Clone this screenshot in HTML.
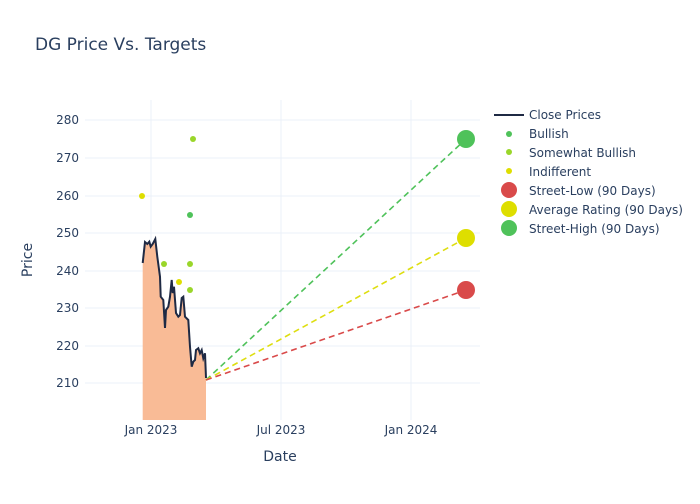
<!DOCTYPE html>
<html><head><style>
body{margin:0;background:#fff;font-family:"DejaVu Sans",sans-serif}
</style></head><body>
<svg width="700" height="500" xmlns="http://www.w3.org/2000/svg" font-family="'DejaVu Sans',sans-serif">
<rect width="700" height="500" fill="#fff"/>
<text x="35" y="50" font-size="17" fill="#2a3f5f">DG Price Vs. Targets</text>
<g stroke="#ebf0f8" stroke-width="1">
<line x1="85" x2="480" y1="120" y2="120"/><line x1="85" x2="480" y1="158" y2="158"/>
<line x1="85" x2="480" y1="196" y2="196"/><line x1="85" x2="480" y1="233" y2="233"/>
<line x1="85" x2="480" y1="271" y2="271"/><line x1="85" x2="480" y1="308" y2="308"/>
<line x1="85" x2="480" y1="346" y2="346"/><line x1="85" x2="480" y1="383" y2="383"/>
<line x1="151" x2="151" y1="100" y2="420"/><line x1="281" x2="281" y1="100" y2="420"/>
<line x1="411" x2="411" y1="100" y2="420"/>
</g>
<g font-size="12" fill="#2a3f5f" text-anchor="end">
<text x="79" y="124">280</text><text x="79" y="162">270</text><text x="79" y="200">260</text>
<text x="79" y="237">250</text><text x="79" y="275">240</text><text x="79" y="312">230</text>
<text x="79" y="350">220</text><text x="79" y="387">210</text>
</g>
<g font-size="12" fill="#2a3f5f" text-anchor="middle">
<text x="151" y="434">Jan 2023</text><text x="281" y="434">Jul 2023</text><text x="411" y="434">Jan 2024</text>
<text x="280" y="461" font-size="14">Date</text>
</g>
<text transform="translate(32,260) rotate(-90)" font-size="14" fill="#2a3f5f" text-anchor="middle">Price</text>
<polygon fill="#f9bb96" points="142.7,420 142.7,263 145,242 147.3,244 149.3,241.7 150.7,246.7 152.7,244 155.3,239 157.3,256.7 160,276.7 160.7,296.7 163.3,300 165,328 166,310 168.3,306.7 170,296.7 171.7,280 172.7,293 174,286.7 176,313 178.3,316.7 180,315 181.7,298 183.3,296.7 185,316.7 188.3,320 190,346.7 191.7,366.7 193.3,361.7 195,360 196,350 198.3,348.3 200,353.3 201.7,350 203.3,358.3 205,353.3 206,378 206,420"/>
<polyline fill="none" stroke="#1f2a44" stroke-width="2" points="142.7,263 145,242 147.3,244 149.3,241.7 150.7,246.7 152.7,244 155.3,239 157.3,256.7 160,276.7 160.7,296.7 163.3,300 165,328 166,310 168.3,306.7 170,296.7 171.7,280 172.7,293 174,286.7 176,313 178.3,316.7 180,315 181.7,298 183.3,296.7 185,316.7 188.3,320 190,346.7 191.7,366.7 193.3,361.7 195,360 196,350 198.3,348.3 200,353.3 201.7,350 203.3,358.3 205,353.3 206,378"/>
<g stroke-width="1.6" stroke-dasharray="6,4" fill="none">
<line x1="206" y1="380" x2="466" y2="139" stroke="#4fc25a"/>
<line x1="206" y1="380" x2="466" y2="238" stroke="#dede10"/>
<line x1="206" y1="380" x2="466" y2="290" stroke="#d94a4a"/>
</g>
<circle cx="142" cy="196" r="3" fill="#dede00"/>
<circle cx="164" cy="264" r="3" fill="#9ad62a"/>
<circle cx="179" cy="282" r="3" fill="#dede00"/>
<circle cx="190" cy="215" r="3" fill="#4fc25a"/>
<circle cx="190" cy="264" r="3" fill="#9ad62a"/>
<circle cx="190" cy="290" r="3" fill="#9ad62a"/>
<circle cx="193" cy="139" r="3" fill="#9ad62a"/>
<circle cx="466" cy="139" r="9" fill="#4fc25a"/>
<circle cx="466" cy="238" r="9" fill="#dede00"/>
<circle cx="466" cy="290" r="9" fill="#d94a4a"/>
<g font-size="12" fill="#2a3f5f">
<line x1="494" x2="524" y1="115" y2="115" stroke="#1f2a44" stroke-width="2"/>
<text x="529" y="119">Close Prices</text>
<circle cx="509" cy="134" r="3" fill="#4fc25a"/><text x="529" y="138">Bullish</text>
<circle cx="509" cy="152" r="3" fill="#9ad62a"/><text x="529" y="157">Somewhat Bullish</text>
<circle cx="509" cy="171" r="3" fill="#dede00"/><text x="529" y="176">Indifferent</text>
<circle cx="509" cy="190" r="8" fill="#d94a4a"/><text x="529" y="195">Street-Low (90 Days)</text>
<circle cx="509" cy="209" r="8" fill="#dede00"/><text x="529" y="214">Average Rating (90 Days)</text>
<circle cx="509" cy="228" r="8" fill="#4fc25a"/><text x="529" y="233">Street-High (90 Days)</text>
</g>
</svg>
</body></html>
